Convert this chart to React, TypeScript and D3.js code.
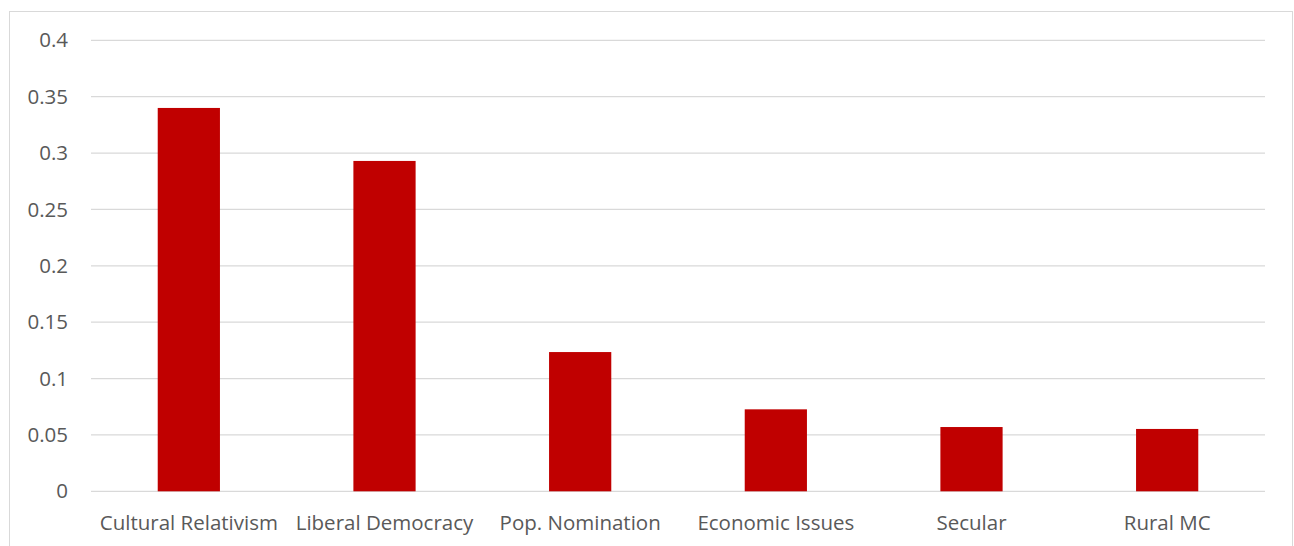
import React from "react";
import * as d3 from "d3";

const categories = [
  "Cultural Relativism",
  "Liberal Democracy",
  "Pop. Nomination",
  "Economic Issues",
  "Secular",
  "Rural MC",
];
const values = [0.34, 0.293, 0.1235, 0.0727, 0.057, 0.0553];
const yTicks = [0, 0.05, 0.1, 0.15, 0.2, 0.25, 0.3, 0.35, 0.4];
const yTickLabels = ["0", "0.05", "0.1", "0.15", "0.2", "0.25", "0.3", "0.35", "0.4"];

const W = 1294;
const H = 546;
const plot = { left: 91, right: 1265, top: 40.3, bottom: 491.3 };
const font = "'Open Sans', 'Liberation Sans', sans-serif";
const textColor = "#595959";

export default function App() {
  const x = d3.scaleBand<string>().domain(categories).range([plot.left, plot.right]).padding(0);
  const y = d3.scaleLinear().domain([0, 0.4]).range([plot.bottom, plot.top]);
  const barW = x.bandwidth() * 0.318;

  return (
    <svg
      width={W}
      height={H}
      style={{ position: "absolute", left: 0, top: 0, background: "#fff" }}
    >
      <rect x={9.5} y={11.5} width={1283} height={560} fill="#fff" stroke="#d9d9d9" strokeWidth={1} />
      {yTicks.map((t, i) => (
        <g key={t}>
          <line
            x1={plot.left}
            x2={plot.right}
            y1={y(t)}
            y2={y(t)}
            stroke="#d9d9d9"
            strokeWidth={1.3}
          />
          <text
            x={68}
            y={y(t)}
            dy="0.35em"
            textAnchor="end"
            fontFamily={font}
            fontSize={20.5}
            fill={textColor}
          >
            {yTickLabels[i]}
          </text>
        </g>
      ))}
      {categories.map((c, i) => {
        const cx = (x(c) as number) + x.bandwidth() / 2;
        return (
          <g key={c}>
            <rect
              x={cx - barW / 2}
              y={y(values[i])}
              width={barW}
              height={y(0) - y(values[i])}
              fill="#c00000"
            />
            <text
              x={cx}
              y={530}
              textAnchor="middle"
              fontFamily={font}
              fontSize={20.5}
              fill={textColor}
            >
              {c}
            </text>
          </g>
        );
      })}
    </svg>
  );
}
